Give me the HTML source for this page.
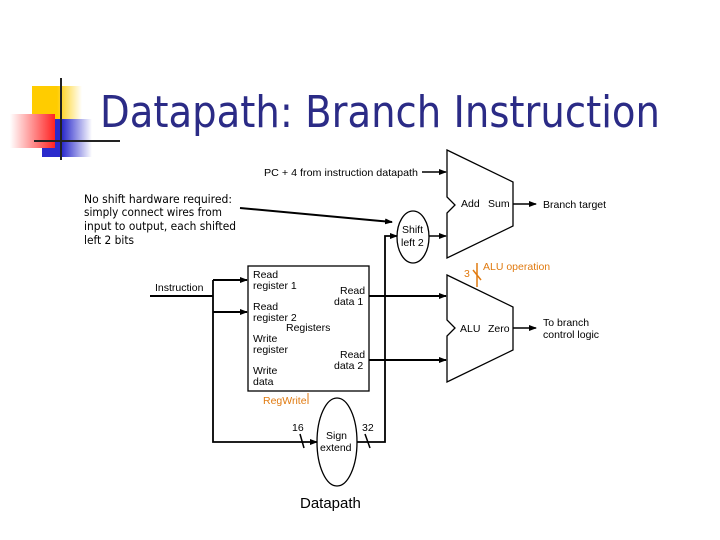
<!DOCTYPE html>
<html><head><meta charset="utf-8"><style>
body{margin:0;width:720px;height:540px;background:#fff;overflow:hidden;position:relative;font-family:"Liberation Sans",sans-serif}
svg{position:absolute;left:0;top:0}
</style></head><body>
<svg width="720" height="540" viewBox="0 0 720 540" font-family="Liberation Sans, sans-serif">
<defs>
<linearGradient id="gr" x1="1" x2="0"><stop offset="0" stop-color="#f22"/><stop offset="1" stop-color="#fff"/></linearGradient>
<linearGradient id="gb" x1="0" x2="1"><stop offset="0.4" stop-color="#2a2acc"/><stop offset="1" stop-color="#fff"/></linearGradient>
<linearGradient id="gy" x1="0" x2="1"><stop offset="0.5" stop-color="#fc0"/><stop offset="1" stop-color="#fff"/></linearGradient>
<marker id="a" markerWidth="8" markerHeight="6" refX="7" refY="3" orient="auto" markerUnits="userSpaceOnUse"><path d="M0,0L8,3L0,6z" fill="#000"/></marker>
</defs>
<rect x="32" y="86" width="50" height="40" fill="url(#gy)"/>
<rect x="42" y="119" width="50" height="38" fill="url(#gb)"/>
<rect x="10" y="114" width="45" height="34" fill="url(#gr)"/>
<line x1="61" y1="78" x2="61" y2="160" stroke="#222" stroke-width="2"/>
<line x1="34" y1="141" x2="120" y2="141" stroke="#222" stroke-width="2"/>
<text x="100" y="127" font-size="44" fill="#2b2b86" font-family="DejaVu Sans, sans-serif" textLength="560" lengthAdjust="spacingAndGlyphs">Datapath: Branch Instruction</text>
<g font-family="DejaVu Sans, sans-serif" font-size="11.5" fill="#000">
<text x="84" y="203" textLength="148" lengthAdjust="spacingAndGlyphs">No shift hardware required:</text>
<text x="84" y="216" textLength="138" lengthAdjust="spacingAndGlyphs">simply connect wires from</text>
<text x="84" y="230" textLength="152" lengthAdjust="spacingAndGlyphs">input to output, each shifted</text>
<text x="84" y="244" textLength="50" lengthAdjust="spacingAndGlyphs">left 2 bits</text>
</g>
<g stroke="#000" fill="none" stroke-width="1.5">
<line x1="240" y1="208" x2="392" y2="222" marker-end="url(#a)" stroke-width="2"/>
<path d="M447,150L513,182L513,226L447,258L447,213L455,205L447,197Z" stroke-width="1.3"/>
<path d="M447,275L513,307L513,350L447,382L447,336L455,328L447,320Z" stroke-width="1.3"/>
<ellipse cx="413" cy="237" rx="16" ry="26" stroke-width="1.3"/>
<ellipse cx="337" cy="442" rx="20" ry="44" stroke-width="1.3"/>
<rect x="248" y="266" width="121" height="125" stroke-width="1.3"/>
<line x1="150" y1="296" x2="213" y2="296" stroke-width="2"/>
<path d="M213,280V442H317" marker-end="url(#a)" stroke-width="1.8"/>
<line x1="213" y1="280" x2="247" y2="280" stroke-width="2" marker-end="url(#a)"/>
<line x1="213" y1="312" x2="247" y2="312" stroke-width="2" marker-end="url(#a)"/>
<path d="M357,442H385V236H397" marker-end="url(#a)" stroke-width="1.8"/>
<line x1="429" y1="236" x2="446" y2="236" marker-end="url(#a)"/>
<line x1="369" y1="296" x2="446" y2="296" stroke-width="2" marker-end="url(#a)"/>
<line x1="369" y1="360" x2="446" y2="360" stroke-width="2" marker-end="url(#a)"/>
<line x1="422" y1="172" x2="446" y2="172" marker-end="url(#a)"/>
<line x1="513" y1="204" x2="536" y2="204" marker-end="url(#a)"/>
<line x1="513" y1="328" x2="536" y2="328" marker-end="url(#a)"/>
<line x1="300" y1="434" x2="304" y2="448"/>
<line x1="365" y1="434" x2="370" y2="448"/>
</g>
<g stroke="#e07a10" fill="none" stroke-width="1.5">
<line x1="477" y1="263" x2="477" y2="287"/>
<line x1="473" y1="270" x2="481" y2="280"/>
<line x1="308" y1="393" x2="308" y2="404" stroke-width="1"/>
</g>
<g font-size="10.5" fill="#000">
<text x="264" y="176" textLength="154" lengthAdjust="spacingAndGlyphs">PC + 4 from instruction datapath</text>
<text x="461" y="207">Add</text><text x="488" y="207">Sum</text>
<text x="543" y="208">Branch target</text>
<text x="402" y="233">Shift</text><text x="401" y="246">left 2</text>
<text x="460" y="332">ALU</text><text x="488" y="332">Zero</text>
<text x="543" y="326">To branch</text><text x="543" y="338">control logic</text>
<text x="155" y="291">Instruction</text>
<text x="253" y="278">Read</text><text x="253" y="289">register 1</text>
<text x="253" y="310">Read</text><text x="253" y="321">register 2</text>
<text x="286" y="331">Registers</text>
<text x="253" y="342">Write</text><text x="253" y="353">register</text>
<text x="253" y="374">Write</text><text x="253" y="385">data</text>
<text x="340" y="294">Read</text><text x="334" y="305">data 1</text>
<text x="340" y="358">Read</text><text x="334" y="369">data 2</text>
<text x="292" y="431">16</text><text x="362" y="431">32</text>
<text x="326" y="439">Sign</text><text x="320" y="451">extend</text>
</g>
<g font-size="10.5" fill="#e07a10">
<text x="483" y="270">ALU operation</text>
<text x="464" y="277">3</text>
<text x="263" y="404">RegWrite</text>
</g>
<text x="300" y="508" font-size="15" fill="#000">Datapath</text>
</svg>
</body></html>
